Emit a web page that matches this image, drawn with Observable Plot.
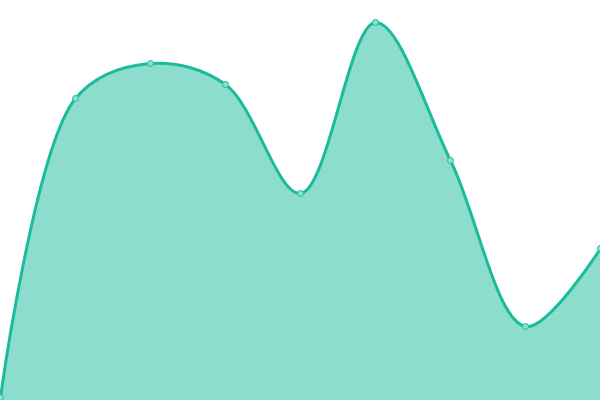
<!DOCTYPE html>
<html><head><meta charset="utf-8">
<script src="https://cdn.jsdelivr.net/npm/d3@7"></script>
<script src="https://cdn.jsdelivr.net/npm/@observablehq/plot@0.6"></script>
<style>html,body{margin:0;padding:0;background:#fff;overflow:hidden}</style>
</head><body><div id="chart"></div>
<script>
const indices = [0, 1, 2, 3, 4, 5, 6, 7, 8];
const values = [3, 302, 337, 316, 207, 378, 240, 74, 152];
const data = indices.map((i, k) => ({i, v: values[k]}));
const chart = Plot.plot({
  width: 600, height: 400,
  margin: 0,
  x: {domain: [0, 8], axis: null},
  y: {domain: [0, 400], axis: null},
  marks: [
    Plot.areaY(data, {x: "i", y: "v", curve: "catmull-rom", fill: "#1abc9c", fillOpacity: 0.5}),
    Plot.lineY(data, {x: "i", y: "v", curve: "catmull-rom", stroke: "#1abc9c", strokeWidth: 3}),
    Plot.dot(data, {x: "i", y: "v", r: 3, fill: "#8de0cf", stroke: "#1abc9c", strokeWidth: 1})
  ]
});
document.getElementById("chart").appendChild(chart);
</script></body></html>
